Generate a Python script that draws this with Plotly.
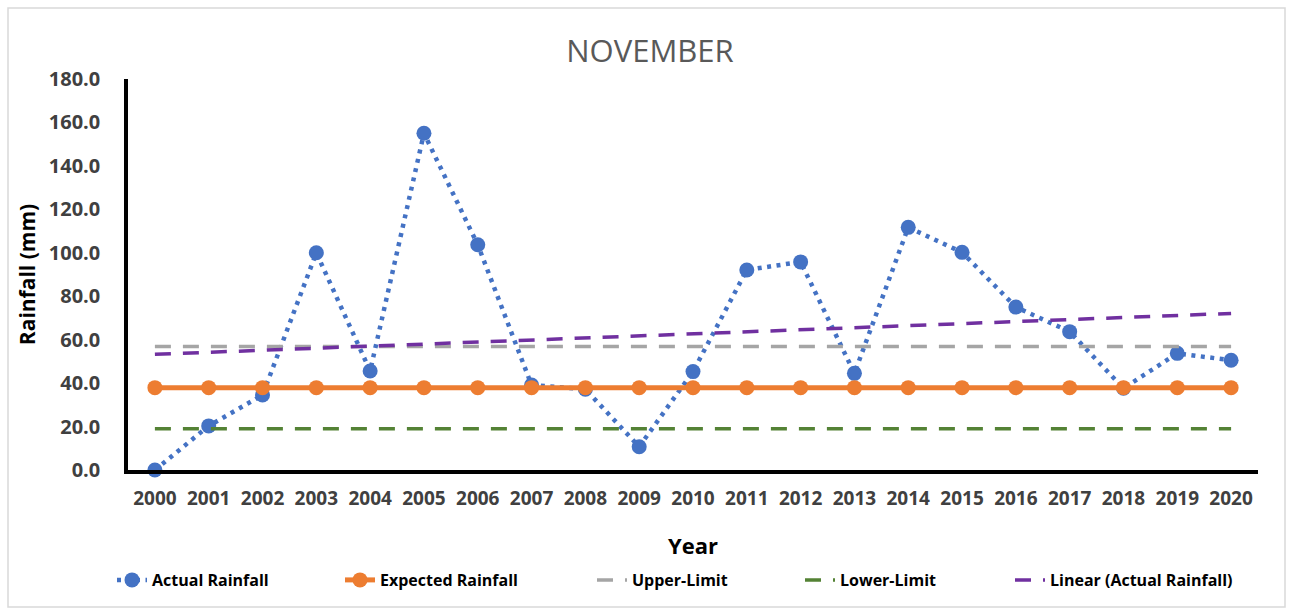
import numpy as np
import plotly.graph_objects as go

# November rainfall, 2000-2020
years = [str(y) for y in range(2000, 2021)]
actual_rainfall = [0.0, 20.3, 34.5, 100.0, 45.6, 155.0, 103.7, 39.1, 37.2, 10.7,
                   45.3, 92.1, 95.8, 44.5, 111.7, 100.2, 75.0, 63.7, 37.6, 53.7, 50.5]
expected_rainfall = [37.9] * len(years)
upper_limit = [56.9] * len(years)
lower_limit = [19.0] * len(years)
y_ticks = [0, 20, 40, 60, 80, 100, 120, 140, 160, 180]

# least-squares linear trend of the actual rainfall
idx = np.arange(len(years))
slope, intercept = np.polyfit(idx, actual_rainfall, 1)
trend = (slope * idx + intercept).tolist()

fig = go.Figure()
fig.add_trace(go.Scatter(
    x=years, y=actual_rainfall, name="Actual Rainfall", mode="lines+markers",
    line=dict(color="#4472C4", width=4.5, dash="4px,5.5px"),
    marker=dict(color="#4472C4", size=15), cliponaxis=False, legend="legend"))
fig.add_trace(go.Scatter(
    x=years, y=expected_rainfall, name="Expected Rainfall", mode="lines+markers",
    line=dict(color="#ED7D31", width=5),
    marker=dict(color="#ED7D31", size=15), cliponaxis=False, legend="legend2"))
fig.add_trace(go.Scatter(
    x=years, y=upper_limit, name="Upper-Limit", mode="lines",
    line=dict(color="#A5A5A5", width=3.5, dash="16px,12px"), legend="legend3"))
fig.add_trace(go.Scatter(
    x=years, y=lower_limit, name="Lower-Limit", mode="lines",
    line=dict(color="#548235", width=3.5, dash="16px,12px"), legend="legend4"))
fig.add_trace(go.Scatter(
    x=years, y=trend, name="Linear (Actual Rainfall)", mode="lines",
    line=dict(color="#7030A0", width=3.5, dash="16px,12px"), legend="legend5"))

W, H = 1292, 615
L, R, T, B = 128, 34, 79, 145
pw, ph = W - L - R, H - T - B

def px_x(p):
    return (p - L) / pw

def px_y(p):
    return (H - B - p) / ph

legend_font = dict(size=16, color="#000000", family="Open Sans, sans-serif", weight="bold")

def legend_at(left_px):
    return dict(orientation="h", x=px_x(left_px), xanchor="left", y=px_y(580), yanchor="middle",
                xref="paper", yref="paper", font=legend_font, bgcolor="rgba(0,0,0,0)")

fig.update_layout(
    width=W, height=H,
    margin=dict(l=L, r=R, t=T, b=B, autoexpand=False),
    paper_bgcolor="white", plot_bgcolor="white",
    font=dict(family="Open Sans, DejaVu Sans, sans-serif", color="#404040"),
    title=dict(text="NOVEMBER", x=650 / W, xref="container", xanchor="center",
               y=1 - 51 / H, yref="container", yanchor="middle",
               font=dict(size=31, color="#595959", family="Open Sans, sans-serif")),
    showlegend=True,
    legend=legend_at(112),
    legend2=legend_at(340),
    legend3=legend_at(592),
    legend4=legend_at(800),
    legend5=legend_at(1010),
    xaxis=dict(
        type="category", range=[-0.5, len(years) - 0.5],
        showgrid=False, zeroline=False,
        showline=True, linecolor="#000000", linewidth=3.5,
        tickfont=dict(size=19, color="#404040", weight="bold"),
        ticks="", ticklabelstandoff=8,
        title=dict(text="Year", font=dict(size=22, color="#000000", weight="bold"), standoff=30),
    ),
    yaxis=dict(
        range=[0, 180], tickvals=y_ticks, tickformat=".1f",
        showgrid=False, zeroline=False,
        showline=True, linecolor="#000000", linewidth=3.5,
        tickfont=dict(size=20, color="#404040", weight="bold"),
        ticks="", ticklabelstandoff=20,
        title=dict(text="Rainfall (mm)", font=dict(size=21, color="#000000", weight="bold"), standoff=8),
    ),
    shapes=[dict(type="rect", xref="paper", yref="paper",
                 x0=px_x(8), x1=px_x(1285), y0=px_y(607), y1=px_y(8),
                 line=dict(color="#D9D9D9", width=1.5), fillcolor="rgba(0,0,0,0)", layer="below")],
)

fig.write_html("out.html")
